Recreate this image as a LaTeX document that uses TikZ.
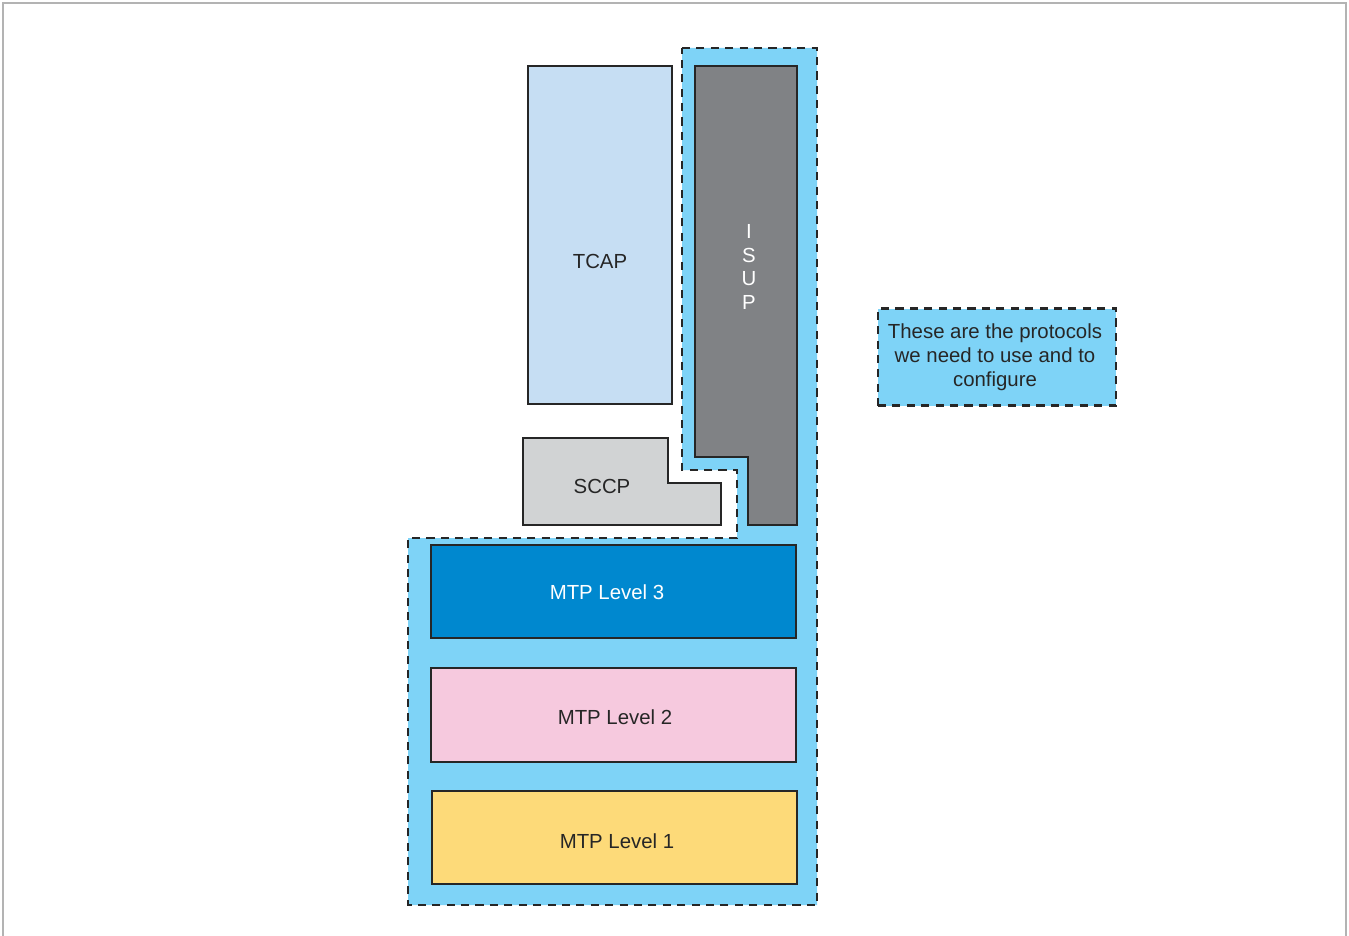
\documentclass[tikz,border=0pt]{standalone}
\usepackage{fontspec}
\setmainfont{Liberation Sans}
\definecolor{regionblue}{HTML}{7ED3F7}
\definecolor{tcapblue}{HTML}{C6DEF3}
\definecolor{isupgray}{HTML}{808285}
\definecolor{sccpgray}{HTML}{D1D3D4}
\definecolor{mtpthree}{HTML}{0088CF}
\definecolor{mtptwo}{HTML}{F6C9DE}
\definecolor{mtpone}{HTML}{FDDA79}
\definecolor{framegray}{HTML}{B3B3B3}
\begin{document}
\begin{tikzpicture}[x=0.02cm,y=-0.02cm]
\tikzstyle{layer}=[draw=black!85, line width=1.3pt]
\tikzstyle{region}=[fill=regionblue, draw=black!85, line width=1.6pt, dash pattern=on 4.6pt off 3.6pt]
\tikzstyle{label}=[font=\fontsize{11.6}{13.6}\selectfont, text=black!85, align=center]

\useasboundingbox (0,0) rectangle (1349,936);
\draw[framegray, line width=0.9pt] (3,936) -- (3,3) -- (1346,3) -- (1346,936);

% protocols we need
\draw[region] (682,48) -- (817,48) -- (817,905) -- (408,905) -- (408,538)
  -- (737,538) -- (737,470) -- (682,470) -- cycle;

\draw[layer, fill=tcapblue] (528,66) rectangle (672,404);
\draw[layer, fill=isupgray] (695,66) -- (797,66) -- (797,525) -- (748,525)
  -- (748,457) -- (695,457) -- cycle;
\draw[layer, fill=sccpgray] (523,438) -- (668,438) -- (668,483) -- (721,483)
  -- (721,525) -- (523,525) -- cycle;

\draw[layer, fill=mtpthree] (431,545) rectangle (796,638);
\draw[layer, fill=mtptwo] (431,668) rectangle (796,762);
\draw[layer, fill=mtpone] (432,791) rectangle (797,884);

\node[label] (tcap) at (600,261) {TCAP};
\node[label, text=white] (isup) at (749,267) {I\\S\\U\\P};
\node[label] (sccp) at (602,486) {SCCP};
\node[label, text=white] (mtp3) at (607,592) {MTP Level 3};
\node[label] (mtp2) at (615,717) {MTP Level 2};
\node[label] (mtp1) at (617,841) {MTP Level 1};

\node[region, minimum width=238*0.02cm, minimum height=97*0.02cm, inner sep=0pt]
  (note) at (997,357) {};
\node[label] (notetext) at (995,357) {These are the protocols\\we need to use and to\\configure};

\end{tikzpicture}
\end{document}
